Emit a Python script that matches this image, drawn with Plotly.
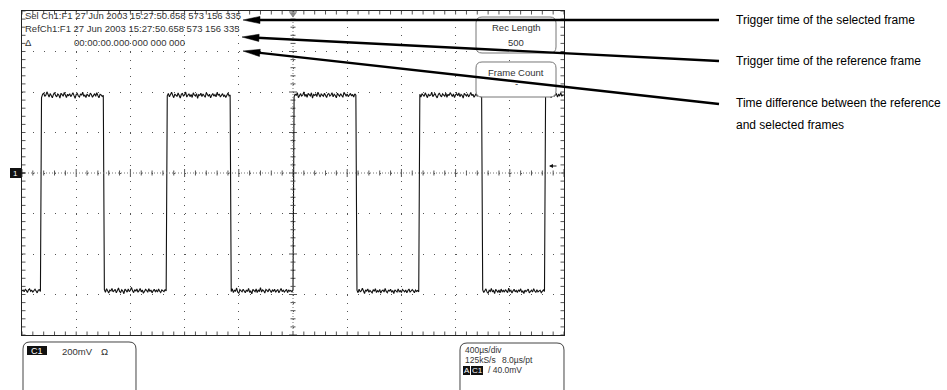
import math
import plotly.graph_objects as go

sample_interval_us = 8          # 8.0 us/pt, 500 pts
volts_per_div_mV = 200
time_per_div_us = 400

seg0_low = [-583,-578,-586,-575,-580,-590,-577,-572,-584,-579,
            -588,-581,-574,-583,-592,-579,-576,-585]
seg1_high = [372,389,395,378,384,401,386,375,392,380,
             371,388,397,383,376,390,385,370,394,387,
             379,398,384,373,389,381,392,377,386,396,
             382,369,387,393,380,375,391,384,399,378,
             386,372,390,383,377,394,388,374,385,392,
             379,397,383,371,389,386,378,384]
seg2_low = [-576,-589,-571,-584,-593,-578,-582,-570,-587,-581,
            -575,-592,-579,-568,-585,-590,-577,-583,-596,-574,
            -580,-588,-572,-586,-579,-565,-582,-591,-576,-584,
            -573,-589,-581,-570,-587,-578,-594,-583,-575,-580,
            -589,-571,-585,-578,-592,-582,-574,-586,-579,-588,
            -573,-584,-590,-577,-581,-586,-575,-583]
seg3_high = [381,393,376,388,399,384,372,390,386,378,
             395,383,370,389,392,379,386,400,375,384,
             391,377,388,373,396,385,380,392,369,387,
             383,394,378,390,382,374,397,386,379,389,
             371,384,393,380,387,376,398,383,390,375,
             386,392,379,384,373,388,395,381,385]
seg4_low = [-585,-572,-590,-579,-583,-568,-588,-594,-576,-582,
            -587,-574,-580,-591,-578,-585,-570,-589,-583,-597,
            -575,-581,-586,-573,-590,-579,-584,-566,-588,-577,
            -582,-593,-575,-580,-587,-572,-585,-590,-578,-583,
            -574,-589,-581,-576,-592,-584,-570,-586,-579,-588,
            -582,-575,-591,-577,-584,-580,-587,-578]
seg5_high = [376,390,383,397,372,387,392,380,385,401,
             378,389,374,393,386,381,396,370,388,383,
             391,377,399,384,375,390,386,379,394,382,
             373,388,392,380,385,397,376,389,383,371,
             394,386,379,391,384,374,398,387,381,390,
             377,385,393,380,388,375,391,384]
seg6_low = [-579,-591,-574,-586,-582,-569,-588,-595,-577,-583,
            -573,-589,-580,-586,-592,-576,-584,-571,-590,-581,
            -587,-575,-593,-582,-578,-588,-570,-585,-591,-579,
            -583,-574,-589,-580,-596,-577,-584,-588,-572,-586,
            -581,-590,-575,-583,-587,-578,-592,-580,-573,-589,
            -584,-576,-582,-591,-578,-585,-580,-587]
seg7_high = [389,375,392,383,378,396,386,372,390,381,
             384,399,377,388,393,380,371,387,395,383,
             376,391,386,379,394,374,389,382,397,385,
             378,390,373,386,392,381,396,377,388,384,
             370,393,387,380,391,376,385,398,382,389,
             374,386,392,379,388,383,377,386]
seg8_low = [-577,-590,-583,-572,-588,-594,-579,-585,-570,-587,
            -581,-596,-575,-584,-589,-578,-592,-573,-586,-580,
            -588,-576,-583,-591,-569,-585,-579,-593,-582,-574,
            -587,-580,-590,-577,-584,-572,-589,-583,-595,-578,
            -586,-581,-574,-592,-585,-579,-588,-571,-583,-590,
            -576,-587,-582,-579,-591,-584,-577,-585]
seg9_high = [383,394,377,390,386,372,389,396,380,385,
             391,375,388,382,397,379,386,384]

segments = [seg0_low, seg1_high, seg2_low, seg3_high, seg4_low,
            seg5_high, seg6_low, seg7_high, seg8_low, seg9_high]

scope_lines = ["Sel Ch1:F1 27 Jun 2003 15:27:50.658 573 156 335",
               "RefCh1:F1 27 Jun 2003 15:27:50.658 573 156 335"]
delta_text = "00:00:00.000 000 000 000"
callouts = ["Trigger time of the selected frame",
            "Trigger time of the reference frame",
            "Time difference between the reference",
            "and selected frames"]

# ---------------- geometry ----------------
W, H = 947, 390
PL, PR, PT, PB = 22, 564, 11, 335
XR = [0, 10 * time_per_div_us]
YR = [-4 * volts_per_div_mV, 4 * volts_per_div_mV]
us_per_px = (XR[1] - XR[0]) / (PR - PL)
mv_per_px = (YR[1] - YR[0]) / (PB - PT)

trace_mV = [v for s in segments for v in s]
t_us = [i * sample_interval_us for i in range(len(trace_mV))]

def P(x, y):
    return f"{x / W:.5f},{1 - y / H:.5f}"

def rrect(x0, y0, x1, y1, r):
    return (f"M{P(x0 + r, y0)} L{P(x1 - r, y0)} Q{P(x1, y0)} {P(x1, y0 + r)} "
            f"L{P(x1, y1 - r)} Q{P(x1, y1)} {P(x1 - r, y1)} L{P(x0 + r, y1)} "
            f"Q{P(x0, y1)} {P(x0, y1 - r)} L{P(x0, y0 + r)} Q{P(x0, y0)} {P(x0 + r, y0)} Z")

fig = go.Figure()

# graticule tick marks (border inside ticks + centre-line ticks)
tx, ty = [], []
minor_x = XR[1] / 50
minor_y = (YR[1] - YR[0]) / 40
for k in range(51):
    x = k * minor_x
    tx += [x, x, None, x, x, None]
    ty += [YR[0], YR[0] + 3.5 * mv_per_px, None, YR[1], YR[1] - 3.5 * mv_per_px, None]
    L = 4 if k % 5 == 0 else 2.5
    tx += [x, x, None]
    ty += [-L * mv_per_px, L * mv_per_px, None]
for k in range(41):
    y = YR[0] + k * minor_y
    tx += [XR[0], XR[0] + 3.5 * us_per_px, None, XR[1], XR[1] - 3.5 * us_per_px, None]
    ty += [y, y, None, y, y, None]
    L = 4 if k % 5 == 0 else 2.5
    tx += [XR[1] / 2 - L * us_per_px, XR[1] / 2 + L * us_per_px, None]
    ty += [y, y, None]
fig.add_trace(go.Scatter(x=tx, y=ty, mode="lines", line=dict(color="#555", width=1),
                         hoverinfo="skip", showlegend=False))

# waveform
fig.add_trace(go.Scatter(x=t_us, y=trace_mV, mode="lines",
                         line=dict(color="#111", width=1.1), showlegend=False,
                         hoverinfo="skip"))

# trigger position marker at the top
fig.add_trace(go.Scatter(x=[XR[1] / 2], y=[YR[1] - 3 * mv_per_px], mode="markers",
                         marker=dict(symbol="triangle-down", size=7, color="#888"),
                         cliponaxis=False, showlegend=False, hoverinfo="skip"))

shapes = []
# dense dotted centre lines
shapes.append(dict(type="line", xref="x", yref="y", x0=XR[0], x1=XR[1], y0=0, y1=0,
                   line=dict(color="#777", width=1, dash="1px,2px")))
shapes.append(dict(type="line", xref="x", yref="y", x0=XR[1] / 2, x1=XR[1] / 2, y0=YR[0], y1=YR[1],
                   line=dict(color="#777", width=1, dash="1px,2px")))

# readout boxes
box_line = dict(color="#777", width=1)
shapes.append(dict(type="path", xref="paper", yref="paper", path=rrect(476, 17, 556, 53, 6),
                   fillcolor="white", line=box_line))
shapes.append(dict(type="path", xref="paper", yref="paper", path=rrect(476, 62, 556, 97, 6),
                   fillcolor="white", line=box_line))
shapes.append(dict(type="path", xref="paper", yref="paper", path=rrect(23, 342, 136, 400, 7),
                   fillcolor="white", line=dict(color="#444", width=1)))
shapes.append(dict(type="path", xref="paper", yref="paper", path=rrect(460, 343, 564, 400, 7),
                   fillcolor="white", line=dict(color="#444", width=1)))

def rect(x0, y0, x1, y1, color="#111"):
    return dict(type="rect", xref="paper", yref="paper", x0=x0 / W, x1=x1 / W,
                y0=1 - y1 / H, y1=1 - y0 / H, fillcolor=color, line=dict(width=0))

shapes.append(rect(10, 168, 21, 178))
shapes.append(dict(type="line", xref="paper", yref="paper", x0=21 / W, x1=25 / W,
                   y0=1 - 173 / H, y1=1 - 173 / H, line=dict(color="#111", width=1)))
shapes.append(rect(27, 346, 47, 355))
shapes.append(rect(463, 366, 470, 375))
shapes.append(rect(471, 366, 483, 375))

# callout arrows
def arrow(tip, tail, head_len=17, head_w=3.6, width=2.3):
    dx, dy = tail[0] - tip[0], tail[1] - tip[1]
    d = math.hypot(dx, dy)
    ux, uy = dx / d, dy / d
    nx, ny = -uy, ux
    bx, by = tip[0] + head_len * ux, tip[1] + head_len * uy
    out = [dict(type="line", xref="paper", yref="paper",
                x0=(bx - 2 * ux) / W, y0=1 - (by - 2 * uy) / H,
                x1=tail[0] / W, y1=1 - tail[1] / H,
                line=dict(color="black", width=width))]
    path = (f"M{P(tip[0], tip[1])} L{P(bx + head_w * nx, by + head_w * ny)} "
            f"L{P(bx - head_w * nx, by - head_w * ny)} Z")
    out.append(dict(type="path", xref="paper", yref="paper", path=path,
                    fillcolor="black", line=dict(color="black", width=0.5)))
    return out

shapes += arrow((243, 20), (719, 20))
shapes += arrow((242, 37), (719, 61))
shapes += arrow((243, 51), (719, 104))

annotations = []

def txt(x, y, s, size=9.5, color="#333", family="Liberation Sans", xanchor="left"):
    annotations.append(dict(x=x / W, y=1 - y / H, xref="paper", yref="paper", text=s,
                            showarrow=False, xanchor=xanchor, yanchor="middle",
                            font=dict(size=size, color=color, family=family)))

txt(23, 16, scope_lines[0])
txt(23, 29, scope_lines[1])
txt(23, 42, "Δ")
txt(72, 42, delta_text)
txt(516, 28, "Rec Length", xanchor="center")
txt(516, 42, "500", xanchor="center")
txt(516, 72, "Frame Count", xanchor="center")
txt(516, 83, "-", xanchor="center")
txt(15.5, 173, "1", size=8, color="white", xanchor="center")
txt(37, 351, "C1", size=9, color="white", xanchor="center")
txt(60, 351, "200mV")
txt(99, 351, "Ω")
txt(463, 350, "400µs/div", size=8.5)
txt(463, 360, "125kS/s", size=8.5)
txt(500, 360, "8.0µs/pt", size=8.5)
txt(466.5, 370.5, "A", size=8, color="white", xanchor="center")
txt(477, 370.5, "C1", size=8, color="white", xanchor="center")
txt(486, 370, "/ 40.0mV", size=8.5)

# trigger level arrow on the right
annotations.append(dict(x=549 / W, y=1 - 166 / H, xref="paper", yref="paper", text="",
                        showarrow=True, ax=9, ay=0, arrowhead=2, arrowsize=0.8,
                        arrowwidth=1, arrowcolor="#111"))

cf = "Liberation Sans"
txt(734, 20, callouts[0], size=12, color="black", family=cf)
txt(734, 61, callouts[1], size=12, color="black", family=cf)
txt(734, 103, callouts[2], size=12, color="black", family=cf)
txt(734, 125, callouts[3], size=12, color="black", family=cf)

fig.update_layout(
    width=W, height=H, margin=dict(l=0, r=0, t=0, b=0),
    paper_bgcolor="white", plot_bgcolor="white",
    shapes=shapes, annotations=annotations, showlegend=False,
    xaxis=dict(range=XR, domain=[PL / W, PR / W], dtick=time_per_div_us, tick0=0,
               showgrid=True, gridcolor="#555", gridwidth=1, griddash="1px,7.1px",
               showline=True, mirror=True, linecolor="#222", linewidth=1,
               zeroline=False, showticklabels=False, ticks="", fixedrange=True),
    yaxis=dict(range=YR, domain=[1 - PB / H, 1 - PT / H], dtick=volts_per_div_mV, tick0=0,
               showgrid=True, gridcolor="#555", gridwidth=1, griddash="1px,9.84px",
               showline=True, mirror=True, linecolor="#222", linewidth=1,
               zeroline=False, showticklabels=False, ticks="", fixedrange=True),
)

fig.write_html("out.html", include_plotlyjs=True, config={"displayModeBar": False},
               post_script="document.body.style.margin='0';document.body.style.overflow='hidden';")
